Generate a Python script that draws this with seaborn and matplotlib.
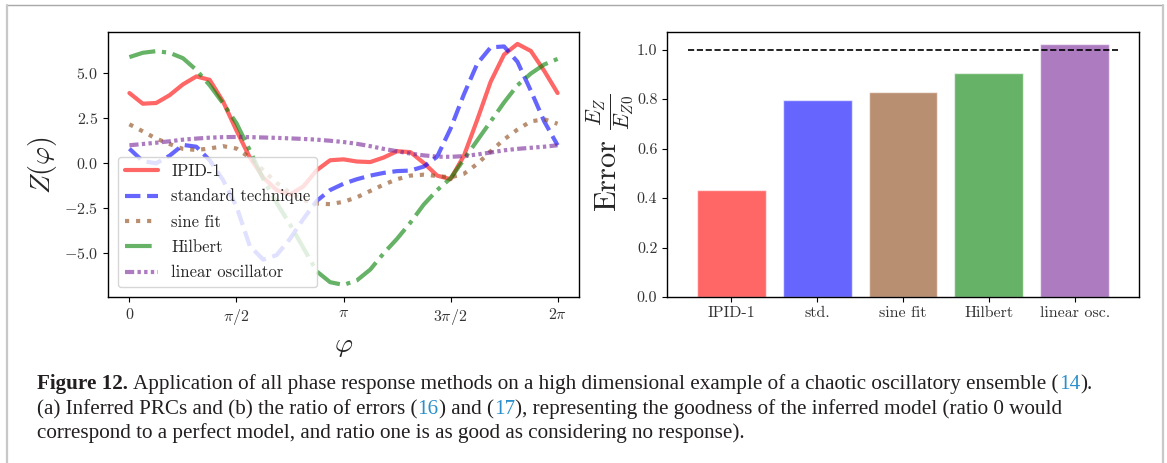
import numpy as np
import pandas as pd
import matplotlib
matplotlib.use("Agg")
import matplotlib.pyplot as plt
from matplotlib.lines import Line2D
import seaborn as sns

# ---------------- data ----------------
phase = np.linspace(0, 2 * np.pi, 33)   # grid of phases (step pi/16)

ipid = [3.87, 3.28, 3.32, 3.75, 4.35, 4.79, 4.6, 3.4, 1.8, 0.3, -0.8, -1.5, -1.75,
        -1.3, -0.4, 0.15, 0.2, 0.08, 0.05, 0.3, 0.65, 0.6, 0.0, -0.7, -0.9, 0.4,
        2.4, 4.5, 6.0, 6.59, 6.2, 5.1, 3.87]
std = [0.79, 0.1, -0.02, 0.4, 1.0, 0.9, 0.15, -0.95, -2.4, -4.6, -5.35, -5.1, -4.2,
       -3.1, -2.1, -1.5, -1.15, -0.9, -0.7, -0.55, -0.45, -0.42, -0.2, 0.35, 1.9, 3.8,
       5.5, 6.4, 6.45, 5.6, 4.0, 2.3, 0.98]
sine = [2.14, 1.75, 1.35, 1.05, 0.78, 0.72, 0.8, 0.93, 0.8, 0.3, -0.4, -1.1, -1.65,
        -2.05, -2.25, -2.28, -2.15, -1.9, -1.55, -1.2, -0.9, -0.7, -0.65, -0.72, -0.8,
        -0.6, -0.05, 0.65, 1.3, 1.85, 2.3, 2.42, 2.17]
hilbert = [5.86, 6.1, 6.19, 6.1, 5.8, 5.15, 4.3, 3.3, 2.2, 0.7, -0.9, -2.2, -3.4,
           -4.7, -6.0, -6.6, -6.75, -6.5, -5.9, -5.0, -4.2, -3.3, -2.3, -1.5, -0.85,
           0.2, 1.25, 2.3, 3.35, 4.3, 4.95, 5.45, 5.76]
linear = [0.98, 1.05, 1.12, 1.2, 1.29, 1.35, 1.4, 1.43, 1.44, 1.43, 1.41, 1.39, 1.36,
          1.33, 1.29, 1.23, 1.16, 1.06, 0.93, 0.78, 0.65, 0.52, 0.42, 0.35, 0.34, 0.38,
          0.47, 0.58, 0.7, 0.78, 0.84, 0.9, 0.98]

series_labels = ["IPID-1", "standard technique", "sine fit", "Hilbert", "linear oscillator"]
series_values = [ipid, std, sine, hilbert, linear]

methods = ["IPID-1", "std.", "sine fit", "Hilbert", "linear osc."]
errors = [0.432, 0.795, 0.828, 0.904, 1.021]

colors = ["red", "blue", "saddlebrown", "green", "#762396"]
linestyles = ["-", "--", ":", "-.", (0, (2.2, 0.8, 0.8, 0.8, 0.8, 0.8, 0.8, 0.8))]

xtick_vals = [0, np.pi / 2, np.pi, 3 * np.pi / 2, 2 * np.pi]
xtick_labels = [r"$0$", r"$\pi/2$", r"$\pi$", r"$3\pi/2$", r"$2\pi$"]
ytick_left = [-5.0, -2.5, 0.0, 2.5, 5.0]
ytick_right = [0.0, 0.2, 0.4, 0.6, 0.8, 1.0]

caption_lines = [
    [("Figure 12.", "bold", "k"),
     ("Application of all phase response methods on a high dimensional example of a chaotic oscillatory ensemble (", "normal", "k"),
     ("14", "normal", "b"), (").", "normal", "k")],
    [("(a) Inferred PRCs and (b) the ratio of errors (", "normal", "k"), ("16", "normal", "b"),
     (") and (", "normal", "k"), ("17", "normal", "b"),
     ("), representing the goodness of the inferred model (ratio 0 would", "normal", "k")],
    [("correspond to a perfect model, and ratio one is as good as considering no response).", "normal", "k")],
]

# ---------------- style ----------------
sns.set_style("ticks")
plt.rcParams["font.family"] = ["cmr10", "DejaVu Serif"]
plt.rcParams["mathtext.fontset"] = "cm"
plt.rcParams["axes.formatter.use_mathtext"] = True
plt.rcParams["axes.edgecolor"] = "black"
plt.rcParams["xtick.color"] = "black"
plt.rcParams["ytick.color"] = "black"
plt.rcParams["axes.linewidth"] = 1.0

W, H = 1167, 463
fig = plt.figure(figsize=(W / 100, H / 100), dpi=100)

ax1 = fig.add_axes([108 / W, 1 - 297 / H, 471 / W, 265 / H])
ax2 = fig.add_axes([667 / W, 1 - 297 / H, 472 / W, 265 / H])

# ---------------- left panel ----------------
for lab, vals, c, ls in zip(series_labels, series_values, colors, linestyles):
    sns.lineplot(x=phase, y=vals, ax=ax1, color=c, linestyle=ls, lw=3,
                 alpha=0.6, label=lab)
ax1.set_xlim(-0.05 * 2 * np.pi, 1.05 * 2 * np.pi)
ax1.set_ylim(-7.42, 7.25)
ax1.set_xticks(xtick_vals)
ax1.set_xticklabels(xtick_labels, fontsize=11.5)
ax1.set_yticks(ytick_left)
ax1.set_yticklabels([rf"${v:.1f}$" for v in ytick_left], fontsize=11.5)
ax1.set_xlabel(r"$\varphi$", fontsize=20)
ax1.set_ylabel(r"$Z(\varphi)$", fontsize=20)
leg = ax1.legend(loc="lower left", fontsize=12, frameon=True, handlelength=2.0,
                 labelspacing=0.6, borderaxespad=0.6)

# ---------------- right panel ----------------
sns.barplot(x=methods, y=errors, hue=methods, palette=colors, saturation=1,
            alpha=0.6, legend=False, ax=ax2, width=0.8)
ax2.hlines(1.0, -0.5, 4.5, colors="black", linestyles="--", lw=1.2)
ax2.set_xlim(-0.75, 4.75)
ax2.set_ylim(0, 1.071)
ax2.set_yticks(ytick_right)
ax2.set_yticklabels([f"{v:.1f}" for v in ytick_right], fontsize=11.5)
ax2.set_xticks(range(len(methods)))
ax2.set_xticklabels(methods, fontsize=11.5)
ax2.set_xlabel("")
ax2.set_ylabel(r"Error $\frac{E_Z}{E_{Z0}}$", fontsize=22)
ax2.yaxis.set_label_coords(-0.066, 0.545)

for ax in (ax1, ax2):
    ax.tick_params(direction="out", length=3.5, width=0.8, colors="black", labelcolor="0.2")
    for sp in ax.spines.values():
        sp.set_visible(True)
        sp.set_color("black")

# ---------------- border ----------------
fig.add_artist(Line2D([7 / W, 1163 / W], [1 - 4.5 / H, 1 - 4.5 / H],
                      transform=fig.transFigure, color="#a8a8a8", lw=1))
fig.add_artist(Line2D([7 / W, 7 / W], [1 - 4.5 / H, 0], transform=fig.transFigure,
                      color="#c8c8c8", lw=1.6))
fig.add_artist(Line2D([1163 / W, 1163 / W], [1 - 4.5 / H, 0], transform=fig.transFigure,
                      color="#c8c8c8", lw=1.6))

# ---------------- caption ----------------
cap_family = ["Liberation Serif", "DejaVu Serif"]
cap_black = "#231f20"
cap_blue = "#2a8fcb"
renderer = fig.canvas.get_renderer()


def text_width(s, size, weight="normal"):
    t = fig.text(0, 0, s, fontsize=size, family=cap_family, weight=weight)
    w = t.get_window_extent(renderer).width
    t.remove()
    return w


# fit the size so that the first line spans the original width
x_start, x_end1 = 37, 1090
base = 10
w_line1 = (text_width(caption_lines[0][0][0], base, "bold") +
           text_width("a a", base) - text_width("aa", base) +
           text_width("".join(s for s, _, _ in caption_lines[0][1:]), base))
cap_size = base * (x_end1 - x_start) / w_line1
space_w = text_width("a a", cap_size) - text_width("aa", cap_size)

baselines = [389, 414, 438]
for segs, yb in zip(caption_lines, baselines):
    x = x_start
    prefix = ""
    x_reg = None
    for s, weight, col in segs:
        color = cap_blue if col == "b" else cap_black
        if weight == "bold":
            fig.text(x / W, 1 - yb / H, s, fontsize=cap_size, family=cap_family,
                     weight="bold", color=color, va="baseline", ha="left")
            x = x + text_width(s, cap_size, "bold") + space_w
            continue
        if x_reg is None:
            x_reg = x
        px = x_reg + (text_width(prefix, cap_size) if prefix else 0)
        fig.text(px / W, 1 - yb / H, s, fontsize=cap_size, family=cap_family,
                 weight="normal", color=color, va="baseline", ha="left")
        prefix += s

fig.savefig("out.png", dpi=100)
